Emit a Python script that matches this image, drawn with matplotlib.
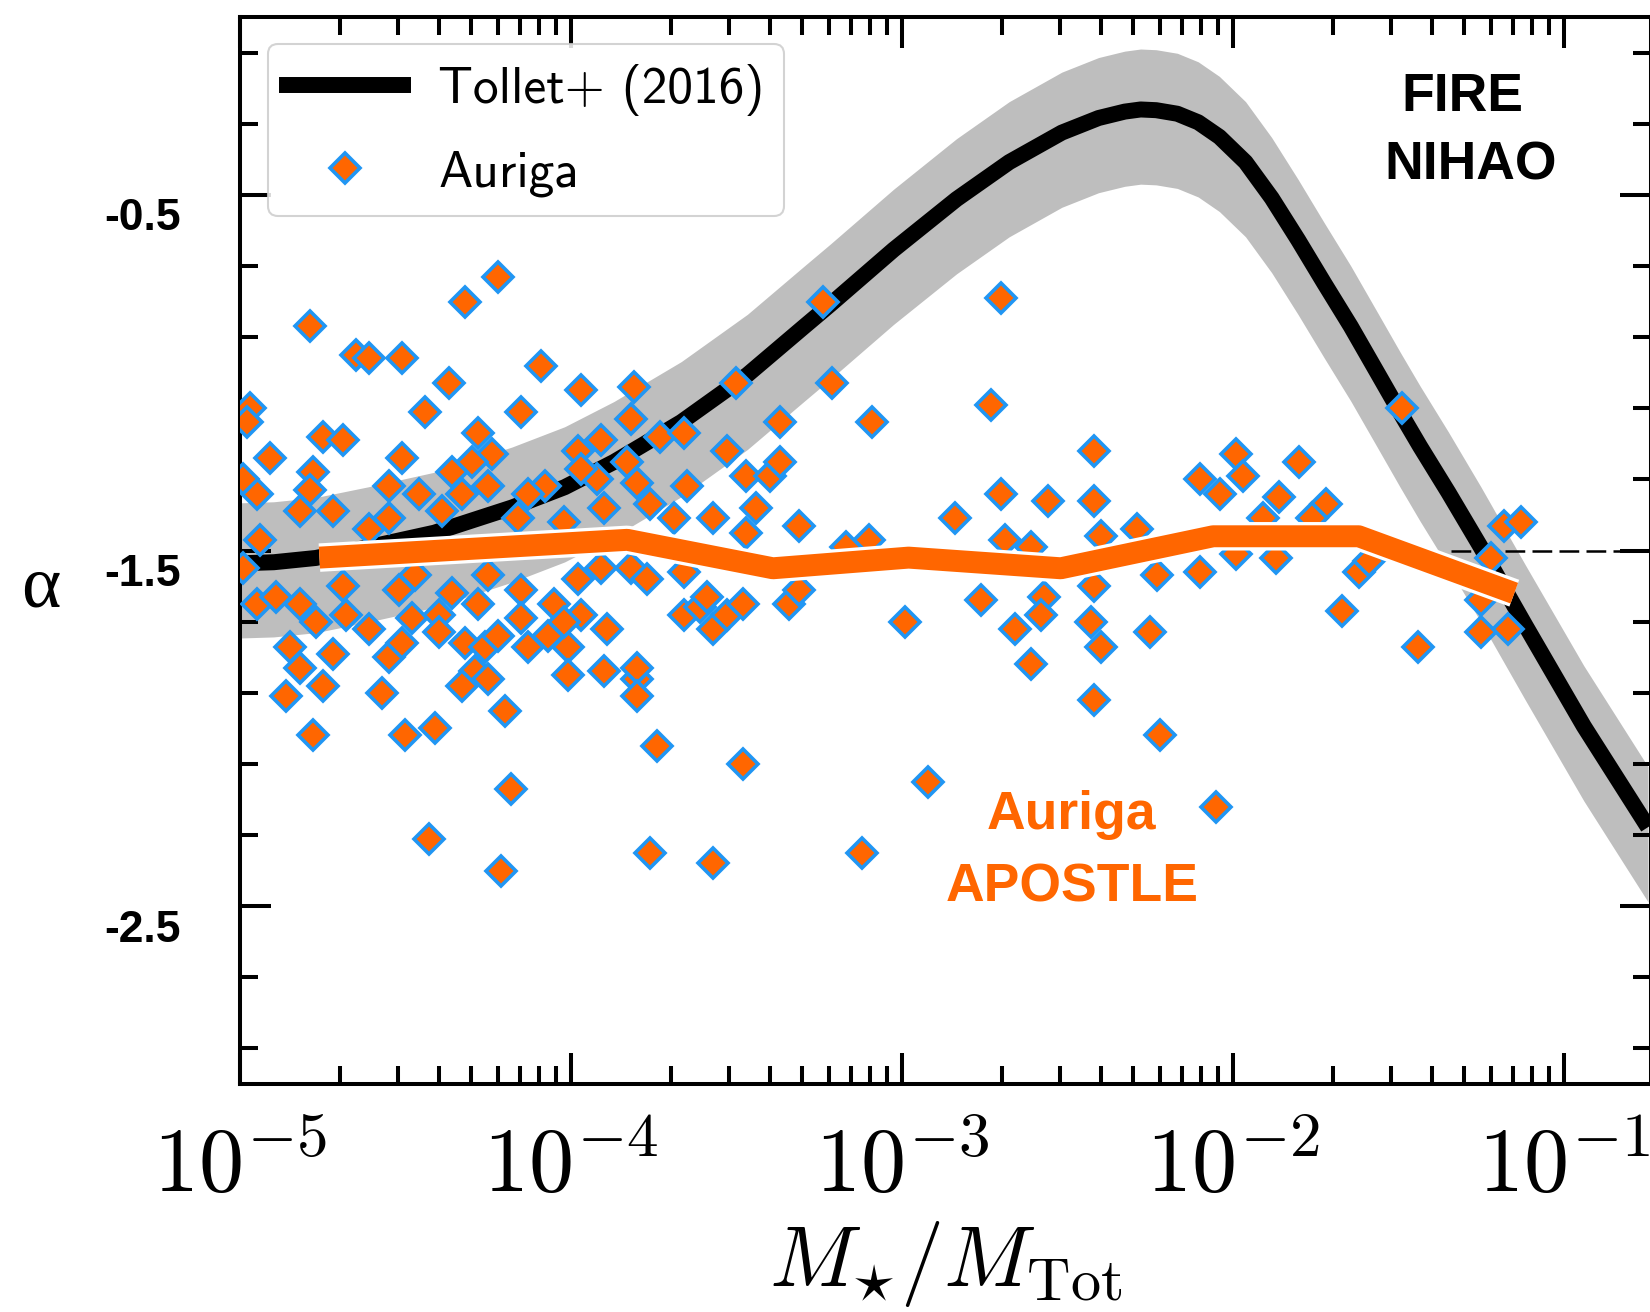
import numpy as np
import matplotlib
matplotlib.use("Agg")
import matplotlib.pyplot as plt
from matplotlib.ticker import LogLocator, FixedLocator, NullFormatter
from matplotlib.lines import Line2D
import matplotlib.patheffects as pe
import matplotlib.transforms as mtransforms

plt.rcParams['mathtext.fontset'] = 'cm'

# ---------------- data ----------------
# Tollet+ (2016) relation (log10 of M*/Mtot, alpha) and its band
tollet_logx = [-5.000, -4.898, -4.771, -4.613, -4.413, -4.178, -4.019, -3.870, -3.667,
               -3.467, -3.295, -3.216, -3.025, -2.835, -2.676, -2.517, -2.406, -2.327,
               -2.279, -2.232, -2.168, -2.105, -2.041, -1.962, -1.883, -1.803, -1.724,
               -1.644, -1.562, -1.495, -1.435, -1.349, -1.251, -1.117, -0.940, -0.746]
tollet_alpha = [-1.536, -1.533, -1.521, -1.491, -1.450, -1.379, -1.322, -1.251, -1.139,
                -1.006, -0.870, -0.808, -0.654, -0.512, -0.408, -0.325, -0.284, -0.266,
                -0.260, -0.262, -0.272, -0.296, -0.337, -0.408, -0.509, -0.627, -0.749,
                -0.870, -1.003, -1.112, -1.207, -1.337, -1.491, -1.710, -1.994, -2.278]
tollet_upper = [-1.366, -1.363, -1.351, -1.321, -1.280, -1.209, -1.152, -1.081, -0.969,
                -0.836, -0.700, -0.638, -0.484, -0.342, -0.238, -0.155, -0.114, -0.096,
                -0.090, -0.092, -0.102, -0.126, -0.167, -0.238, -0.339, -0.457, -0.579,
                -0.700, -0.833, -0.942, -1.037, -1.167, -1.321, -1.540, -1.824, -2.108]
tollet_lower = [-1.746, -1.743, -1.731, -1.701, -1.660, -1.589, -1.532, -1.461, -1.349,
                -1.216, -1.080, -1.018, -0.864, -0.722, -0.618, -0.535, -0.494, -0.476,
                -0.470, -0.472, -0.482, -0.506, -0.547, -0.618, -0.719, -0.837, -0.959,
                -1.080, -1.213, -1.322, -1.417, -1.547, -1.701, -1.920, -2.204, -2.488]

# Auriga haloes
auriga_logx = [
    -4.22, -4.32, -4.79, -4.65, -4.61, -4.51, -4.37, -4.44, -4.97, -4.98,
    -4.75, -4.69, -4.91, -4.51, -4.28, -4.15, -4.78, -4.95, -4.55, -4.46,
    -4.33, -4.24, -4.30, -4.36, -4.25, -4.82, -4.72, -4.79, -4.55, -4.39,
    -4.16, -4.61, -4.94, -4.99,
    -4.95, -4.89, -4.82, -4.77, -4.85, -4.82, -4.72, -4.68, -4.61, -4.86,
    -4.75, -4.57, -4.55, -4.51, -4.52, -4.47, -4.48, -4.40, -4.40, -4.36,
    -4.28, -4.32, -4.26, -4.29, -4.33, -4.25, -4.22, -4.15, -4.15, -4.20,
    -4.78, -4.50, -4.41, -4.18, -4.69, -4.25, -4.99,
    -4.09, -3.97, -3.81, -3.50, -3.37, -3.82, -3.73, -3.66, -3.91, -3.98,
    -3.83, -3.53, -3.92, -3.80, -3.65, -4.08, -4.13, -3.47, -3.40, -3.37,
    -3.76, -3.69, -3.90, -3.57, -3.44, -3.31, -3.97, -4.02,
    -3.98, -3.91, -3.82, -3.77, -3.66, -4.05, -3.97, -4.07, -4.01, -4.13,
    -3.89, -4.02, -4.01, -3.90, -3.80, -3.80, -3.80, -3.66, -3.61, -3.57,
    -3.59, -3.53, -3.48, -3.34, -3.31, -3.47, -3.74, -3.48,
    -3.24, -2.70, -3.21, -2.73, -3.09, -2.42, -2.70, -2.56, -2.42, -2.84,
    -3.10, -2.69, -2.61, -2.40, -2.29, -3.17, -2.76, -2.57, -2.42, -2.23,
    -2.99, -2.66, -2.58, -2.43, -2.40, -2.61, -2.42, -2.92, -3.12,
    -1.49, -1.99, -2.10, -2.04, -1.97, -1.80, -1.86, -1.72, -1.91, -1.76,
    -2.10, -1.99, -1.87, -1.62, -1.67, -1.44, -2.25, -2.22, -1.18, -1.13,
    -1.22, -1.25, -1.25, -1.17, -1.59,
    -4.43, -4.21, -3.76, -3.57, -2.05]
auriga_alpha = [
    -0.73, -0.80, -0.87, -0.95, -0.96, -0.96, -1.03, -1.11, -1.10, -1.14,
    -1.18, -1.19, -1.24, -1.24, -1.17, -1.11, -1.28, -1.34, -1.32, -1.34,
    -1.34, -1.23, -1.25, -1.28, -1.32, -1.39, -1.39, -1.33, -1.41, -1.39,
    -1.41, -1.44, -1.47, -1.30,
    -1.65, -1.63, -1.65, -1.70, -1.77, -1.83, -1.79, -1.68, -1.72, -1.91,
    -1.88, -1.90, -1.80, -1.76, -1.61, -1.57, -1.69, -1.68, -1.73, -1.62,
    -1.65, -1.76, -1.77, -1.84, -1.88, -1.86, -1.74, -1.61, -1.69, -1.95,
    -2.02, -2.02, -2.00, -2.17, -1.60, -1.57, -1.55,
    -0.98, -1.05, -1.04, -1.03, -1.14, -1.13, -1.18, -1.17, -1.19, -1.22,
    -1.25, -1.22, -1.30, -1.31, -1.32, -1.32, -1.34, -1.29, -1.29, -1.25,
    -1.37, -1.41, -1.38, -1.41, -1.38, -1.43, -1.27, -1.42,
    -1.58, -1.55, -1.55, -1.58, -1.56, -1.65, -1.68, -1.74, -1.77, -1.77,
    -1.72, -1.70, -1.85, -1.84, -1.86, -1.83, -1.91, -1.68, -1.66, -1.72,
    -1.63, -1.68, -1.65, -1.65, -1.61, -1.45, -2.05, -2.10,
    -0.80, -0.79, -1.03, -1.09, -1.14, -1.22, -1.34, -1.36, -1.36, -1.41,
    -1.47, -1.47, -1.49, -1.46, -1.44, -1.49, -1.64, -1.63, -1.60, -1.57,
    -1.70, -1.72, -1.68, -1.70, -1.77, -1.82, -1.92, -2.15, -2.35,
    -1.10, -1.23, -1.30, -1.34, -1.29, -1.25, -1.35, -1.37, -1.41, -1.41,
    -1.56, -1.51, -1.52, -1.56, -1.67, -1.77, -1.73, -2.02, -1.43, -1.42,
    -1.52, -1.64, -1.73, -1.72, -1.53,
    -2.31, -2.40, -2.35, -2.38, -2.22]

# Auriga running median
median_logx = [-4.76, -3.83, -3.39, -2.98, -2.52, -2.06, -1.62, -1.15]
median_alpha = [-1.52, -1.47, -1.55, -1.52, -1.55, -1.46, -1.46, -1.62]

# reference dashed level
ref_alpha = -1.5
ref_logx = [-1.34, -0.5]

# ticks
xtick_values = [1e-5, 1e-4, 1e-3, 1e-2, 1e-1]
xtick_labels = [r'$10^{-5}$', r'$10^{-4}$', r'$10^{-3}$', r'$10^{-2}$', r'$10^{-1}$']
ytick_values = [-0.5, -1.5, -2.5]
ytick_labels = ['-0.5', '-1.5', '-2.5']
yminor_values = [-0.1, -0.3, -0.7, -0.9, -1.1, -1.3, -1.7, -1.9, -2.1, -2.3, -2.7, -2.9]

ORANGE = '#ff6600'
BLUE = '#2196f3'

# ---------------- figure ----------------
W, H = 1650, 1312
fig = plt.figure(figsize=(W / 100, H / 100), dpi=100)
ax = fig.add_axes([240 / W, (H - 1084) / H, (1651 - 240) / W, (1084 - 17) / H])
ax.set_xscale('log')

tx = 10 ** np.array(tollet_logx)
ax.fill_between(tx, tollet_lower, tollet_upper, color='#bebebe', lw=0, zorder=1)
ax.plot(tx, tollet_alpha, color='black', lw=11.5, solid_joinstyle='round',
        solid_capstyle='butt', zorder=2)

ax.plot(10 ** np.array(ref_logx), [ref_alpha, ref_alpha], color='black', lw=1.8,
        dashes=(7.9, 2.9), zorder=2.5)

ax.plot(10 ** np.array(auriga_logx), auriga_alpha, ls='none', marker='D', ms=15,
        mfc=ORANGE, mec=BLUE, mew=2.6, zorder=3)

ax.plot(10 ** np.array(median_logx), median_alpha, color=ORANGE, lw=15.8,
        solid_capstyle='butt', solid_joinstyle='round', zorder=4,
        path_effects=[pe.Stroke(linewidth=20.5, foreground='white'), pe.Normal()])

ax.set_xlim(1e-5, 10 ** -0.737)
ax.set_ylim(-3.0, 0.0)

for s in ax.spines.values():
    s.set_linewidth(2.9)

ax.set_xticks(xtick_values)
ax.set_xticklabels(xtick_labels, fontsize=65)
ax.xaxis.set_minor_locator(LogLocator(base=10, subs=np.arange(2, 10), numticks=100))
ax.xaxis.set_minor_formatter(NullFormatter())
ax.yaxis.set_major_locator(FixedLocator(ytick_values))
ax.yaxis.set_minor_locator(FixedLocator(yminor_values))
ax.tick_params(which='both', direction='in', top=True, right=True, width=2.9,
               labelleft=False)
ax.tick_params(which='major', length=22)
ax.tick_params(which='minor', length=13)
ax.tick_params(axis='x', which='major', pad=28)

# y tick labels (bold, slightly below their ticks)
off = mtransforms.ScaledTranslation(0, -24 / 100, fig.dpi_scale_trans)
ytrans = mtransforms.blended_transform_factory(ax.transAxes, ax.transData) + off
for v, lab in zip(ytick_values, ytick_labels):
    ax.text(-0.0418, v, lab, transform=ytrans, ha='right', va='center',
            fontsize=32, fontweight='bold', family='Liberation Sans')

ax.set_xlabel(r'$M_{\star}/M_{\rm Tot}$', fontsize=62, labelpad=6)
fig.text(41 / W, 1 - 589 / H, 'α', fontsize=54, family='Liberation Serif',
         ha='center', va='center')

# legend
handles = [Line2D([], [], color='black', lw=11.5),
           Line2D([], [], ls='none', marker='D', ms=15, mfc=ORANGE, mec=BLUE, mew=2.6)]
leg = ax.legend(handles, ['Tollet+ (2016)', 'Auriga'], loc='upper left',
                bbox_to_anchor=(0.0198, 0.9747), borderaxespad=0,
                prop={'family': 'cmss10', 'size': 37}, handlelength=2.25,
                handletextpad=0.68, labelspacing=0.68, borderpad=0.38,
                frameon=True, fancybox=True, framealpha=0.85, edgecolor='#cccccc')
leg.get_frame().set_linewidth(1.5)
leg.set_zorder(6)

# annotations
for txt, x, y in [('FIRE', 1462, 97), ('NIHAO', 1471, 166)]:
    fig.text(x / W, 1 - y / H, txt, fontsize=38.5, fontweight='bold',
             family='Liberation Sans', color='black', ha='center', va='center')
for txt, x, y in [('Auriga', 1071, 815), ('APOSTLE', 1072, 887)]:
    fig.text(x / W, 1 - y / H, txt, fontsize=38.5, fontweight='bold',
             family='Liberation Sans', color=ORANGE, ha='center', va='center')

fig.savefig('out.png', dpi=100)
